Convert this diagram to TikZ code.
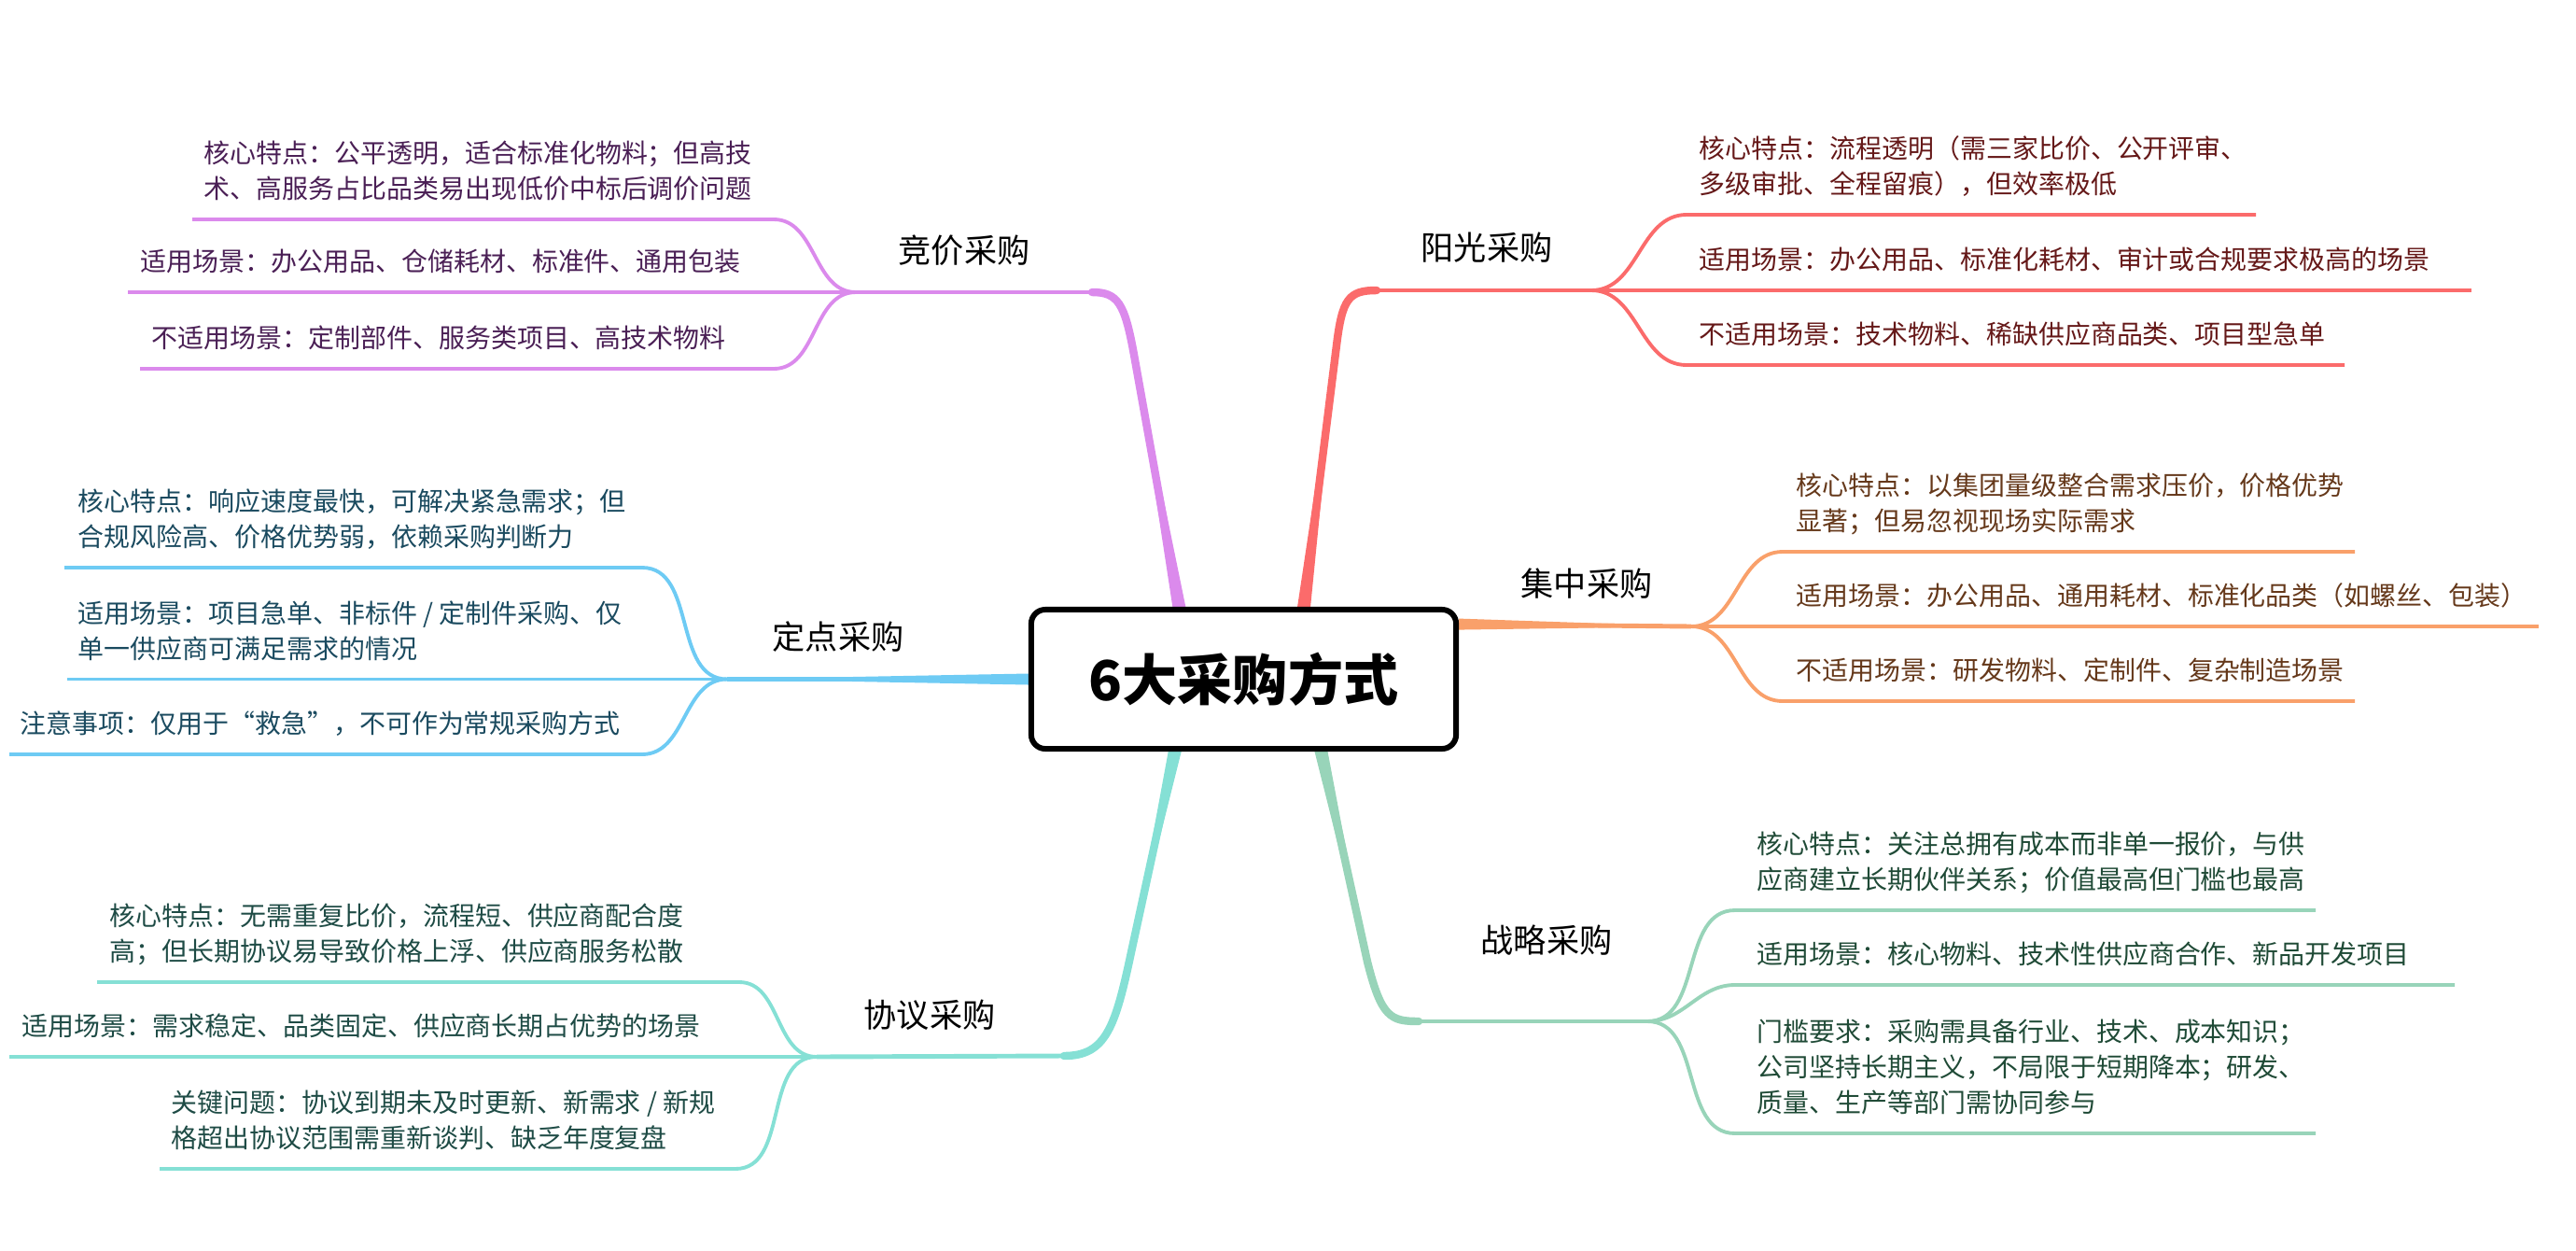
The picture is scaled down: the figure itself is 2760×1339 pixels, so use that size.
\documentclass[tikz,border=0pt]{standalone}
\usepackage{fontspec}
\setmainfont{Noto Sans CJK SC}
\usetikzlibrary{calc,backgrounds}

\definecolor{jingc}{HTML}{DB8AEC}
\definecolor{jingt}{HTML}{4A1F55}
\definecolor{dingc}{HTML}{6ECBF4}
\definecolor{dingt}{HTML}{1A4A5F}
\definecolor{xiec}{HTML}{85E0D5}
\definecolor{xiet}{HTML}{1E4B45}
\definecolor{yangc}{HTML}{FB6B6B}
\definecolor{yangt}{HTML}{651818}
\definecolor{jic}{HTML}{F9A06A}
\definecolor{jit}{HTML}{65381A}
\definecolor{zhanc}{HTML}{98D4B9}
\definecolor{zhant}{HTML}{1F4A36}

\newcommand{\lend}{\rule[-2.4pt]{0pt}{2.4pt}}

\tikzset{
  trunk/.style={line width=1.4pt},
  thickbend/.style={line width=2.4pt, line cap=round},
  twig/.style={line width=1.1pt},
  leaf/.style={anchor=south west, inner sep=0pt, align=left, font=\fontsize{7.95pt}{10.8pt}\selectfont},
  branch/.style={inner sep=0pt, font=\fontsize{10pt}{12pt}\selectfont},
  root/.style={draw, line width=1.7pt, rounded corners=4.3pt, fill=white, inner sep=0pt,
    minimum width=4.55cm, minimum height=1.49cm, font=\fontsize{16.8pt}{20pt}\selectfont\bfseries}
}

\begin{document}
\begin{tikzpicture}[x=0.01cm, y=-0.01cm]
    \useasboundingbox (0,0) rectangle (2760,1339);

    % 中心主题
    \node[root] (root) at (1332.5,727.5) {6大采购方式};

    % 主干连线
    \begin{pgfonlayer}{background}
    \coordinate (jingB) at ($(root.north west)!0.35!(root.north east)$);
    \coordinate (jingJ) at (917,313);
    \fill[jingc] ($(jingB)+(-7,0)$) -- (1215,380) -- ($(jingB)+(7,0)$) -- cycle;
    \draw[jingc, thickbend] (jingB) -- (1215,380) .. controls (1205,325) and (1198,313) .. (1170,313);
    \draw[jingc, trunk] (1170,313) -- (jingJ);

    \coordinate (yangB) at ($(root.north west)!0.64!(root.north east)$);
    \coordinate (yangJ) at (1705,311);
    \fill[yangc] ($(yangB)+(-7,0)$) -- (1432,370) -- ($(yangB)+(7,0)$) -- cycle;
    \draw[yangc, thickbend] (yangB) -- (1432,370) .. controls (1438,320) and (1445,311) .. (1475,311);
    \draw[yangc, trunk] (1475,311) -- (yangJ);

    \coordinate (xieB) at ($(root.south west)!0.34!(root.south east)$);
    \coordinate (xieJ) at (875,1132);
    \fill[xiec] ($(xieB)+(-7,0)$) -- (1212,1020) -- ($(xieB)+(7,0)$) -- cycle;
    \draw[xiec, thickbend] (xieB) -- (1212,1020) .. controls (1195,1100) and (1185,1131) .. (1140,1131);
    \draw[xiec, trunk] (1140,1131) -- (xieJ);

    \coordinate (zhanB) at ($(root.south west)!0.68!(root.south east)$);
    \coordinate (zhanJ) at (1765,1094);
    \fill[zhanc] ($(zhanB)+(-7,0)$) -- (1465,1030) -- ($(zhanB)+(7,0)$) -- cycle;
    \draw[zhanc, thickbend] (zhanB) -- (1465,1030) .. controls (1480,1090) and (1490,1094) .. (1520,1094);
    \draw[zhanc, trunk] (1520,1094) -- (zhanJ);

    \coordinate (dingB) at (root.west);
    \coordinate (dingJ) at (779,727.5);
    \fill[dingc] ($(dingB)+(0,-6)$) -- (dingJ) -- ($(dingB)+(0,6)$) -- cycle;
    \draw[dingc, trunk] (dingB) -- (dingJ);

    \coordinate (jiB) at ($(root.north east)!0.12!(root.south east)$);
    \coordinate (jiJ) at (1812,671);
    \fill[jic] ($(jiB)+(0,-6)$) -- (jiJ) -- ($(jiB)+(0,6)$) -- cycle;
    \draw[jic, trunk] (jiB) -- (jiJ);
    \end{pgfonlayer}

    % 竞价采购
    \node[branch] (jing) at (1033,268) {竞价采购};
    \node[leaf, text=jingt] (jing1) at (218,221.7) {核心特点：公平透明，适合标准化物料；但高技\\术、高服务占比品类易出现低价中标后调价问题\lend};
    \node[leaf, text=jingt] (jing2) at (150,299.7) {适用场景：办公用品、仓储耗材、标准件、通用包装\lend};
    \node[leaf, text=jingt] (jing3) at (162,381.7) {不适用场景：定制部件、服务类项目、高技术物料\lend};
    \draw[jingc, twig] (jingJ) to[out=180, in=0] (829,235) -- (206,235);
    \draw[jingc, twig] (jingJ) -- (137,313);
    \draw[jingc, twig] (jingJ) to[out=180, in=0] (829,395) -- (150,395);

    % 定点采购
    \node[branch] (ding) at (898,682) {定点采购};
    \node[leaf, text=dingt] (ding1) at (83,594.7) {核心特点：响应速度最快，可解决紧急需求；但\\合规风险高、价格优势弱，依赖采购判断力\lend};
    \node[leaf, text=dingt] (ding2) at (83,714.7) {适用场景：项目急单、非标件 / 定制件采购、仅\\单一供应商可满足需求的情况\lend};
    \node[leaf, text=dingt] (ding3) at (21,794.7) {注意事项：仅用于“救急”，不可作为常规采购方式\lend};
    \draw[dingc, twig] (dingJ) to[out=180, in=0] (688,608) -- (69,608);
    \draw[dingc, twig] (dingJ) -- (72,727.5);
    \draw[dingc, twig] (dingJ) to[out=180, in=0] (688,808) -- (10,808);

    % 协议采购
    \node[branch] (xie) at (996,1087) {协议采购};
    \node[leaf, text=xiet] (xie1) at (117,1038.7) {核心特点：无需重复比价，流程短、供应商配合度\\高；但长期协议易导致价格上浮、供应商服务松散\lend};
    \node[leaf, text=xiet] (xie2) at (23,1118.7) {适用场景：需求稳定、品类固定、供应商长期占优势的场景\lend};
    \node[leaf, text=xiet] (xie3) at (183,1238.7) {关键问题：协议到期未及时更新、新需求 / 新规\\格超出协议范围需重新谈判、缺乏年度复盘\lend};
    \draw[xiec, twig] (xieJ) to[out=180, in=0] (792,1052) -- (104,1052);
    \draw[xiec, twig] (xieJ) -- (10,1132);
    \draw[xiec, twig] (xieJ) to[out=180, in=0] (788,1252) -- (171,1252);

    % 阳光采购
    \node[branch] (yang) at (1593,265) {阳光采购};
    \node[leaf, text=yangt] (yang1) at (1820,216.7) {核心特点：流程透明（需三家比价、公开评审、\\多级审批、全程留痕），但效率极低\lend};
    \node[leaf, text=yangt] (yang2) at (1820,297.7) {适用场景：办公用品、标准化耗材、审计或合规要求极高的场景\lend};
    \node[leaf, text=yangt] (yang3) at (1820,377.7) {不适用场景：技术物料、稀缺供应商品类、项目型急单\lend};
    \draw[yangc, twig] (yangJ) to[out=0, in=180] (1807,230) -- (2417,230);
    \draw[yangc, twig] (yangJ) -- (2648,311);
    \draw[yangc, twig] (yangJ) to[out=0, in=180] (1807,391) -- (2512,391);

    % 集中采购
    \node[branch] (ji) at (1700,625) {集中采购};
    \node[leaf, text=jit] (ji1) at (1924,577.7) {核心特点：以集团量级整合需求压价，价格优势\\显著；但易忽视现场实际需求\lend};
    \node[leaf, text=jit] (ji2) at (1924,657.7) {适用场景：办公用品、通用耗材、标准化品类（如螺丝、包装）\lend};
    \node[leaf, text=jit] (ji3) at (1924,737.7) {不适用场景：研发物料、定制件、复杂制造场景\lend};
    \draw[jic, twig] (jiJ) to[out=0, in=180] (1910,591) -- (2523,591);
    \draw[jic, twig] (jiJ) -- (2720,671);
    \draw[jic, twig] (jiJ) to[out=0, in=180] (1910,751) -- (2523,751);

    % 战略采购
    \node[branch] (zhan) at (1657,1007) {战略采购};
    \node[leaf, text=zhant] (zhan1) at (1882,961.7) {核心特点：关注总拥有成本而非单一报价，与供\\应商建立长期伙伴关系；价值最高但门槛也最高\lend};
    \node[leaf, text=zhant] (zhan2) at (1882,1041.7) {适用场景：核心物料、技术性供应商合作、新品开发项目\lend};
    \node[leaf, text=zhant] (zhan3) at (1882,1200.7) {门槛要求：采购需具备行业、技术、成本知识；\\公司坚持长期主义，不局限于短期降本；研发、\\质量、生产等部门需协同参与\lend};
    \draw[zhanc, twig] (zhanJ) to[out=0, in=180] (1859,975) -- (2481,975);
    \draw[zhanc, twig] (zhanJ) to[out=0, in=180] (1859,1055) -- (2630,1055);
    \draw[zhanc, twig] (zhanJ) to[out=0, in=180] (1859,1214) -- (2481,1214);
\end{tikzpicture}
\end{document}
